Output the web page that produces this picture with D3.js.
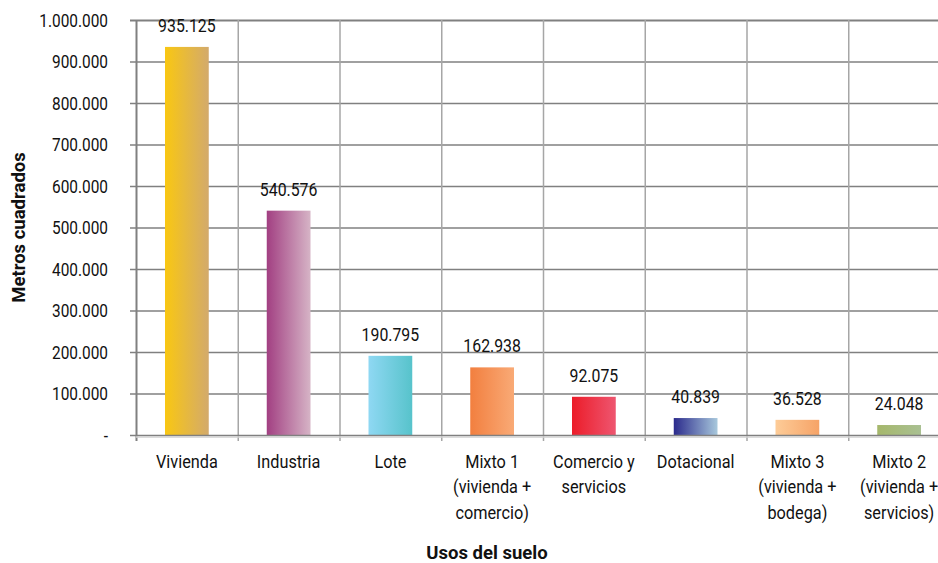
<!DOCTYPE html>
<html>
<head>
<meta charset="utf-8">
<script src="https://cdn.jsdelivr.net/npm/d3@7"></script>
<style>
  body { margin: 0; background: #fff; }
  text { font-family: Roboto, "Liberation Sans", sans-serif; fill: #111; }
</style>
</head>
<body>
<div id="chart"></div>
<script>
// usos del suelo (metros cuadrados)
let categories = [
    ["Vivienda"],
    ["Industria"],
    ["Lote"],
    ["Mixto 1", "(vivienda +", "comercio)"],
    ["Comercio y", "servicios"],
    ["Dotacional"],
    ["Mixto 3", "(vivienda +", "bodega)"],
    ["Mixto 2", "(vivienda +", "servicios)"]
];
let values = [935125, 540576, 190795, 162938, 92075, 40839, 36528, 24048];
let colorsFrom = ["#f9c712", "#a23f82", "#8fd8f3", "#f27f3f", "#ec1c29", "#2b2a8c", "#fdcc98", "#a5b76b"];
let colorsTo   = ["#d3aa6c", "#d6b4c6", "#57c3cb", "#f9aa76", "#ee5670", "#a8c8dc", "#f6a367", "#a9c092"];
let yTicks = [0, 100000, 200000, 300000, 400000, 500000, 600000, 700000, 800000, 900000, 1000000];

let W = 938, H = 563;
let margin = {top: 20, left: 136, bottom: 128};
let plotRight = 950;
let squeeze = 0.88;   // condensed look

let svg = d3.select("#chart")
    .append("svg")
    .attr("width", W)
    .attr("height", H);

let fmt = d3.formatLocale({decimal: ",", thousands: ".", grouping: [3], currency: ["$", ""]}).format(",d");
let yFmt = d => d === 0 ? "-" : fmt(d);

let x = d3.scaleBand()
    .domain(d3.range(categories.length))
    .range([margin.left, plotRight])
    .paddingInner(0)
    .paddingOuter(0);

let y = d3.scaleLinear()
    .domain([0, 1000000])
    .range([H - margin.bottom, margin.top]);

// gradients
let defs = svg.append("defs");
values.forEach((v, i) => {
    let g = defs.append("linearGradient")
        .attr("id", "grad" + i)
        .attr("x1", "0%").attr("x2", "100%")
        .attr("y1", "0%").attr("y2", "0%");
    g.append("stop").attr("offset", "0%").attr("stop-color", colorsFrom[i]);
    g.append("stop").attr("offset", "100%").attr("stop-color", colorsTo[i]);
});

// horizontal gridlines
svg.append("g")
    .selectAll("line")
    .data(yTicks.filter(d => d > 0))
    .enter()
    .append("line")
    .attr("x1", margin.left - 6)
    .attr("x2", W)
    .attr("y1", d => y(d) + 0.5)
    .attr("y2", d => y(d) + 0.5)
    .attr("stroke", "#808080")
    .attr("stroke-width", d => d === 1000000 ? 2 : 1.3);

// vertical gridlines
svg.append("g")
    .selectAll("line")
    .data(d3.range(1, categories.length))
    .enter()
    .append("line")
    .attr("x1", d => x(d) + 0.5)
    .attr("x2", d => x(d) + 0.5)
    .attr("y1", margin.top)
    .attr("y2", y(0) + 6)
    .attr("stroke", "#a6a6a6")
    .attr("stroke-width", 1.5);

// bars
svg.append("g")
    .selectAll("rect")
    .data(values)
    .enter()
    .append("rect")
    .attr("x", (d, i) => x(i) + x.bandwidth() * 0.285)
    .attr("width", x.bandwidth() * 0.43)
    .attr("y", d => y(d))
    .attr("height", d => y(0) - y(d))
    .attr("fill", (d, i) => "url(#grad" + i + ")");

// value labels
svg.append("g")
    .selectAll("text")
    .data(values)
    .enter()
    .append("text")
    .attr("transform", (d, i) => "translate(" + (x(i) + x.bandwidth() / 2) + "," + (y(d) - 15) + ") scale(" + squeeze + ",1)")
    .attr("text-anchor", "middle")
    .attr("font-size", 18)
    .text(d => fmt(d));

// axis lines
svg.append("line")
    .attr("x1", margin.left + 0.5).attr("x2", margin.left + 0.5)
    .attr("y1", margin.top).attr("y2", y(0) + 6)
    .attr("stroke", "#808080").attr("stroke-width", 2);

svg.append("line")
    .attr("x1", margin.left - 6).attr("x2", W)
    .attr("y1", y(0) + 0.5).attr("y2", y(0) + 0.5)
    .attr("stroke", "#808080").attr("stroke-width", 1.5);
svg.append("line")
    .attr("x1", margin.left).attr("x2", W)
    .attr("y1", y(0) + 2).attr("y2", y(0) + 2)
    .attr("stroke", "#d0d0d0").attr("stroke-width", 1.5);

// y tick labels
svg.append("g")
    .selectAll("text")
    .data(yTicks)
    .enter()
    .append("text")
    .attr("transform", d => "translate(108," + (y(d) + 6.5) + ") scale(" + squeeze + ",1)")
    .attr("text-anchor", "end")
    .attr("font-size", 17.5)
    .text(yFmt);

// category labels
let cat = svg.append("g")
    .selectAll("text")
    .data(categories)
    .enter()
    .append("text")
    .attr("text-anchor", "middle")
    .attr("font-size", 18.5)
    .attr("transform", (d, i) => "translate(" + (x(i) + x.bandwidth() / 2) + ",468) scale(" + squeeze + ",1)");

cat.selectAll("tspan")
    .data(d => d)
    .enter()
    .append("tspan")
    .attr("x", 0)
    .attr("y", (d, i) => i * 25.5)
    .text(d => d);

// axis titles
svg.append("text")
    .attr("transform", "translate(25," + ((margin.top + y(0)) / 2) + ") rotate(-90)")
    .attr("text-anchor", "middle")
    .attr("font-size", 18.5)
    .attr("font-weight", "bold")
    .text("Metros cuadrados");

svg.append("text")
    .attr("x", 487)
    .attr("y", 559)
    .attr("text-anchor", "middle")
    .attr("font-size", 18.5)
    .attr("font-weight", "bold")
    .text("Usos del suelo");
</script>
</body>
</html>
